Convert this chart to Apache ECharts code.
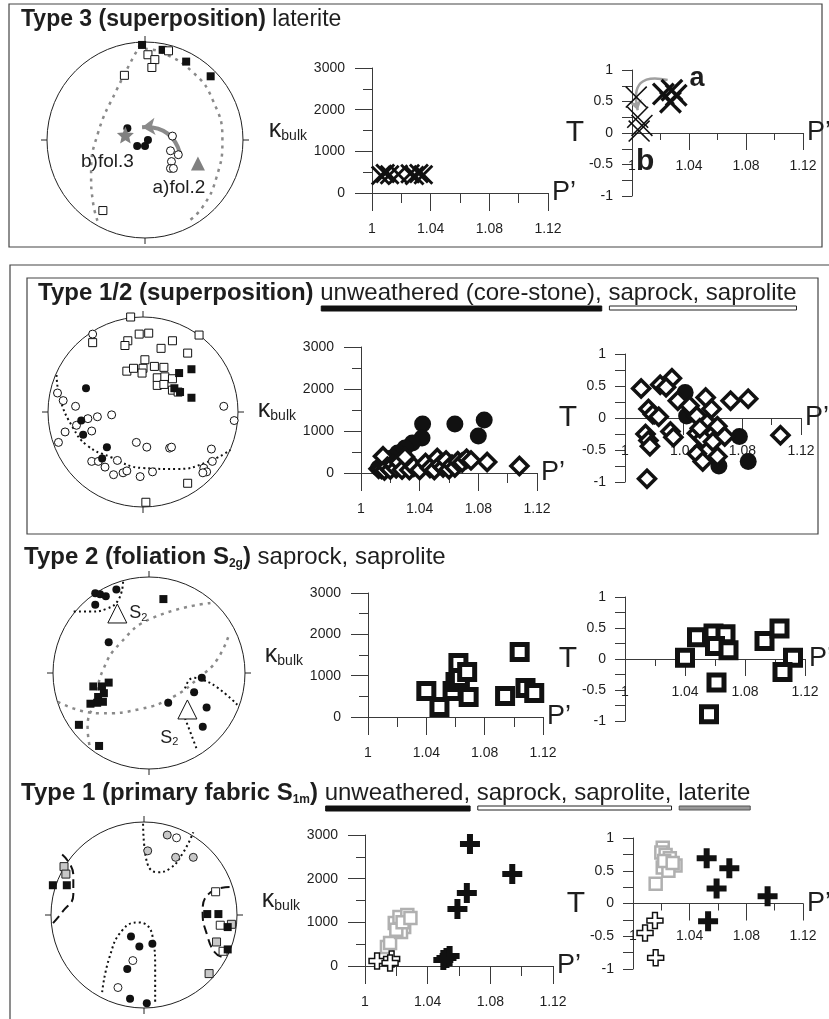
<!DOCTYPE html>
<html>
<head>
<meta charset="utf-8">
<script src="https://cdn.jsdelivr.net/npm/echarts@6/dist/echarts.min.js"></script>
<style>
  html, body { margin: 0; padding: 0; background: #fff; }
  #chart { width: 829px; height: 1019px; }
</style>
</head>
<body>
<div id="chart"></div>
<script>
// ---------- data ----------
// row 1 : Type 3 (superposition) laterite
// stereonet points, unit-circle coordinates [x, y]
var r1SqFilled = [[-0.03,0.97],[0.18,0.92],[0.42,0.80],[0.67,0.65]];
var r1SqOpen = [[0.03,0.87],[0.10,0.82],[0.07,0.74],[0.24,0.91],[-0.21,0.66],[-0.43,-0.72]];
var r1CiFilled = [[-0.18,0.12],[-0.08,-0.06],[0.0,-0.06],[0.03,0.0]];
var r1CiOpen = [[0.28,0.04],[0.26,-0.11],[0.34,-0.15],[0.27,-0.22],[0.26,-0.29],[0.29,-0.29]];
var r1Star = [[-0.2,0.05]];
var r1Tri = [[0.54,-0.24]];
var r1DashA = [[-0.05,0.97],[-0.29,0.51],[-0.48,0.07],[-0.55,-0.34],[-0.53,-0.64],[-0.48,-0.84]];
var r1DashB = [[0.0,0.93],[0.18,0.89],[0.49,0.69],[0.69,0.41],[0.79,0.0],[0.73,-0.38],[0.59,-0.68],[0.43,-0.84]];
var r1StereoArrow = [[0.36,-0.14],[-0.03,0.13]];
// P' / kbulk
var r1KCross = [[1.006,420],[1.009,470],[1.012,440],[1.018,450],[1.026,460],[1.029,420],[1.032,470],[1.035,440]];
// P' / T
var r1TCrossA = [[1.022,0.62],[1.028,0.68],[1.027,0.49],[1.031,0.60]];
var r1TCrossB = [[1.003,0.57],[1.004,0.25],[1.007,0.12],[1.005,0.03]];
var r1TArrow = [[1.025,0.84],[1.004,0.36]];

// row 2 : Type 1/2 (superposition)
var r2SqOpen = [[-0.13,1.0],[0.59,0.81],[-0.53,0.73],[-0.04,0.82],[0.06,0.83],[-0.16,0.75],[-0.19,0.70],
  [0.31,0.75],[0.19,0.67],[0.47,0.62],[0.02,0.55],[0.12,0.48],[0.22,0.47],[-0.17,0.43],[-0.10,0.46],
  [0.0,0.46],[-0.01,0.41],[0.15,0.36],[0.23,0.37],[0.31,0.35],[0.15,0.28],[0.22,0.29],[0.31,0.23],
  [0.37,0.21],[0.47,-0.75],[0.03,-0.95]];
var r2SqFilled = [[0.38,0.41],[0.51,0.45],[0.33,0.25],[0.39,0.21],[0.51,0.15]];
var r2CiFilled = [[-0.6,0.25],[-0.65,-0.09],[-0.63,-0.24],[-0.38,-0.37],[-0.43,-0.49]];
var r2CiOpen = [[-0.53,0.82],[-0.9,0.2],[-0.84,0.12],[-0.71,0.06],[-0.48,-0.05],[-0.58,-0.07],[-0.33,-0.03],
  [-0.7,-0.14],[-0.82,-0.21],[-0.54,-0.2],[-0.89,-0.32],[-0.07,-0.32],[0.04,-0.37],[0.28,-0.38],[0.3,-0.37],
  [0.85,0.06],[0.96,-0.09],[0.72,-0.39],[0.73,-0.52],[-0.54,-0.52],[-0.47,-0.52],[-0.4,-0.58],[-0.27,-0.51],
  [-0.31,-0.66],[-0.21,-0.64],[-0.17,-0.62],[-0.03,-0.68],[0.1,-0.63],[0.64,-0.59],[0.67,-0.63],[0.63,-0.64]];
var r2Dot = [[-0.91,0.39],[-0.87,0.13],[-0.74,-0.16],[-0.59,-0.35],[-0.35,-0.47],[0.0,-0.59],[0.36,-0.6],[0.67,-0.53],[0.92,-0.4]];
var r2KCircle = [[1.042,1167],[1.064,1167],[1.084,1262],[1.080,881],[1.0416,833],[1.035,714],[1.030,595],
  [1.025,476],[1.021,357],[1.016,200],[1.012,120]];
var r2KDiamond = [[1.012,100],[1.014,95],[1.015,400],[1.016,60],[1.018,150],[1.020,80],[1.022,200],[1.024,110],
  [1.026,250],[1.028,80],[1.030,380],[1.033,71],[1.036,150],[1.040,71],[1.044,238],[1.047,120],[1.050,70],
  [1.052,357],[1.054,200],[1.056,130],[1.058,300],[1.060,90],[1.062,200],[1.064,130],[1.066,280],[1.069,250],
  [1.072,340],[1.075,300],[1.086,262],[1.108,167]];
var r2TDiamond = [[1.011,0.46],[1.024,0.52],[1.032,0.62],[1.028,0.48],[1.016,0.14],[1.019,0.06],[1.023,0.02],
  [1.014,-0.25],[1.016,-0.35],[1.017,-0.44],[1.031,-0.21],[1.033,-0.30],[1.015,-0.95],[1.036,0.27],[1.044,0.19],
  [1.049,0.03],[1.055,0.32],[1.059,0.14],[1.056,-0.08],[1.063,-0.13],[1.049,-0.24],[1.053,-0.32],[1.060,-0.37],
  [1.068,-0.29],[1.049,-0.56],[1.053,-0.68],[1.063,-0.60],[1.072,0.27],[1.084,0.30],[1.106,-0.27],[1.051,-0.16]];
var r2TCircle = [[1.041,0.40],[1.042,0.03],[1.078,-0.29],[1.084,-0.68],[1.064,-0.75]];

// row 3 : Type 2 (foliation S2g)
var r3CiFilled = [[-0.56,0.83],[-0.51,0.82],[-0.45,0.80],[-0.34,0.87],[-0.56,0.71],[-0.42,0.32],
  [0.55,-0.05],[0.47,-0.2],[0.2,-0.31],[0.6,-0.36],[0.56,-0.56]];
var r3SqFilled = [[0.15,0.77],[-0.58,-0.14],[-0.49,-0.14],[-0.42,-0.1],[-0.47,-0.21],[-0.53,-0.25],
  [-0.48,-0.3],[-0.54,-0.31],[-0.61,-0.32],[-0.73,-0.54],[-0.52,-0.76]];
var r3TriN = [[-0.33,0.62]];
var r3TriS = [[0.4,-0.38]];
var r3DashA = [[-0.95,-0.30],[-0.51,-0.42],[-0.09,-0.375],[0.25,-0.25],[0.53,-0.04],[0.71,0.14],[0.84,0.42]];
var r3DashB = [[0.64,0.73],[0.03,0.57],[-0.30,0.31],[-0.48,0.03],[-0.56,-0.28],[-0.64,-0.56],[-0.61,-0.80]];
var r3DotN = [[-0.27,0.95],[-0.32,0.76],[-0.44,0.67],[-0.61,0.64],[-0.79,0.64]];
var r3DotS = [[0.375,-0.16],[0.46,-0.05],[0.56,-0.07],[0.71,-0.15],[0.92,-0.33]];
var r3DotS2 = [[0.375,-0.47],[0.5,-0.8]];
var r3KSquare = [[1.040,629],[1.049,242],[1.058,629],[1.060,847],[1.062,1306],[1.063,943],[1.068,1089],
  [1.069,484],[1.094,508],[1.104,1572],[1.108,702],[1.114,580]];
var r3TSquare = [[1.040,0.02],[1.048,0.35],[1.059,0.41],[1.067,0.40],[1.060,0.21],[1.069,0.14],[1.061,-0.38],
  [1.056,-0.89],[1.093,0.29],[1.103,0.49],[1.112,0.02],[1.105,-0.21]];

// row 4 : Type 1 (primary fabric S1m)
var r4CiGray = [[0.25,0.86],[0.04,0.69],[0.34,0.62],[0.53,0.62]];
var r4CiOpen = [[0.35,0.83],[-0.12,-0.49],[-0.28,-0.78]];
var r4CiFilled = [[-0.14,-0.23],[0.09,-0.31],[-0.05,-0.34],[-0.18,-0.58],[-0.15,-0.9],[0.03,-0.95]];
var r4SqGray = [[-0.86,0.52],[-0.84,0.44],[0.94,-0.1],[0.78,-0.29],[0.7,-0.63]];
var r4SqFilled = [[-0.98,0.32],[-0.83,0.32],[0.68,0.01],[0.8,0.01],[0.9,-0.13],[0.9,-0.37]];
var r4SqOpen = [[0.77,0.25],[0.82,-0.11],[0.85,-0.39]];
var r4DotN = [[-0.01,0.98],[0.02,0.62],[0.14,0.46],[0.28,0.5],[0.42,0.67],[0.53,0.89]];
var r4DotS = [[-0.45,-0.83],[-0.37,-0.45],[-0.23,-0.16],[-0.06,-0.08],[0.09,-0.22],[0.12,-0.59],[0.12,-0.94]];
var r4DashW = [[-0.88,0.65],[-0.76,0.43],[-0.76,0.22],[-0.88,0.03],[-1.0,-0.11]];
var r4DashE = [[0.92,0.3],[0.71,0.24],[0.63,0.03],[0.68,-0.22],[0.76,-0.4],[0.84,-0.45]];
var r4KBlackPlus = [[1.067,2794],[1.094,2107],[1.065,1672],[1.059,1305],[1.052,183],[1.054,229],[1.050,137]];
var r4KOpenPlus = [[1.0077,115],[1.017,160],[1.016,69]];
var r4KGraySq = [[1.014,435],[1.016,527],[1.019,985],[1.022,1122],[1.025,893],[1.023,779],[1.027,1168],
  [1.020,830],[1.024,1000],[1.029,1100]];
var r4TBlackPlus = [[1.052,0.69],[1.068,0.54],[1.059,0.23],[1.095,0.11],[1.053,-0.27]];
var r4TOpenPlus = [[1.0155,-0.26],[1.0085,-0.45],[1.016,-0.83]];
var r4TGraySq = [[1.021,0.85],[1.020,0.78],[1.023,0.74],[1.026,0.69],[1.030,0.58],[1.021,0.55],[1.025,0.50],
  [1.016,0.30],[1.022,0.65],[1.028,0.62]];

// ---------- layout ----------
var FONT = '"Liberation Sans", Arial, Helvetica, sans-serif';
var LINE = '#3a3a3a';
var TXT = '#1e1e1e';
// stereonets: [cx, cy, r]
var STEREO = [[145,140,98],[143,412,95],[149,673,96],[144,915,93]];
// kbulk plots: [left, top, width, height]
var KBOX = [[372,68,176,125],[361,347,176,126],[368,593,175,124],[365,835,188,131]];
// T plots
var TBOX = [[632,70,171,126],[625,354,176,128],[625,597,180,124],[633,838,170,131]];

var CROSS = 'path://M2,0 L10,8 L18,0 L20,2 L12,10 L20,18 L18,20 L10,12 L2,20 L0,18 L8,10 L0,2 Z';
var CROSS_THIN = 'path://M1,0 L10,9 L19,0 L20,1 L11,10 L20,19 L19,20 L10,11 L1,20 L0,19 L9,10 L0,1 Z';
var PLUS = 'path://M7,0 H13 V7 H20 V13 H13 V20 H7 V13 H0 V7 H7 Z';
var STAR = 'path://M10,0 L12.9,6.9 L20,7.6 L14.6,12.4 L16.2,20 L10,16 L3.8,20 L5.4,12.4 L0,7.6 L7.1,6.9 Z';

var grids = [], xAxes = [], yAxes = [], polars = [], angleAxes = [], radiusAxes = [], series = [];

function addStereo(c) {
  var g = grids.length;
  grids.push({left: c[0] - c[2], top: c[1] - c[2], width: 2 * c[2], height: 2 * c[2], outerBoundsMode: 'none'});
  xAxes.push({gridIndex: g, type: 'value', min: -1, max: 1, show: false});
  yAxes.push({gridIndex: g, type: 'value', min: -1, max: 1, show: false});
  var p = polars.length;
  polars.push({center: [c[0], c[1]], radius: c[2]});
  angleAxes.push({
    polarIndex: p, type: 'value', min: 0, max: 360, interval: 90, startAngle: 90, clockwise: true,
    axisLine: {lineStyle: {color: '#222', width: 1}},
    axisTick: {show: true, length: 6, lineStyle: {color: '#222', width: 1}},
    axisLabel: {show: false}, splitLine: {show: false}, splitArea: {show: false}
  });
  radiusAxes.push({polarIndex: p, type: 'value', min: 0, max: 1, show: false});
  return g;
}

// P' axis; offset lifts it onto T = 0 in the T plots
function pAxis(g, margin, major, minor, offset) {
  return {
    gridIndex: g, type: 'value', min: 1, max: 1.12, interval: 0.04, offset: offset,
    axisLine: {onZero: false, lineStyle: {color: LINE, width: 1}},
    axisTick: {length: major, lineStyle: {color: LINE}},
    minorTick: {show: true, splitNumber: 2, length: minor, lineStyle: {color: LINE}},
    splitLine: {show: false}, minorSplitLine: {show: false},
    axisLabel: {margin: margin, color: TXT, fontSize: 14, fontFamily: FONT, hideOverlap: false,
      formatter: function (v) { return String(+v.toFixed(2)); }},
    name: 'P\u2019', nameLocation: 'end', nameGap: 4,
    nameTextStyle: {fontSize: 27, color: TXT, fontFamily: FONT, verticalAlign: 'middle', padding: [12, 0, 0, 0]}
  };
}

function addK(b) {
  var g = grids.length;
  grids.push({left: b[0], top: b[1], width: b[2], height: b[3], outerBoundsMode: 'none'});
  xAxes.push(pAxis(g, 29, 18, 10, 0));
  yAxes.push({
    gridIndex: g, type: 'value', min: 0, max: 3000, interval: 1000,
    axisLine: {show: true, lineStyle: {color: LINE, width: 1}},
    axisTick: {show: true, length: 17, lineStyle: {color: LINE}},
    minorTick: {show: true, splitNumber: 2, length: 9, lineStyle: {color: LINE}},
    splitLine: {show: false}, minorSplitLine: {show: false},
    axisLabel: {margin: 27, color: TXT, fontSize: 14, fontFamily: FONT, formatter: function (v) { return String(v); }},
    name: '{k|\u03ba}{s|bulk}', nameLocation: 'middle', nameRotate: 0, nameGap: 65,
    nameTextStyle: {color: TXT, fontFamily: FONT, rich: {
      k: {fontSize: 25, fontFamily: FONT, color: TXT},
      s: {fontSize: 14, fontFamily: FONT, color: TXT, verticalAlign: 'bottom', padding: [12, 0, 0, 0]}
    }}
  });
  return g;
}

function addT(b) {
  var g = grids.length;
  grids.push({left: b[0], top: b[1], width: b[2], height: b[3], outerBoundsMode: 'none'});
  xAxes.push(pAxis(g, 26, 17, 7, -b[3] / 2));
  yAxes.push({
    gridIndex: g, type: 'value', min: -1, max: 1, interval: 0.5,
    axisLine: {show: true, onZero: false, lineStyle: {color: LINE, width: 1}},
    axisTick: {show: true, length: 10, lineStyle: {color: LINE}},
    minorTick: {show: true, splitNumber: 2, length: 10, lineStyle: {color: LINE}},
    splitLine: {show: false}, minorSplitLine: {show: false},
    axisLabel: {margin: 19, color: TXT, fontSize: 14, fontFamily: FONT, formatter: function (v) { return String(v); }},
    name: 'T', nameLocation: 'middle', nameRotate: 0, nameGap: 40,
    nameTextStyle: {fontSize: 30, color: TXT, fontFamily: FONT}
  });
  return g;
}

function pts(g, data, sym, size, fill, stroke, bw, extra) {
  series.push(Object.assign({
    type: 'scatter', xAxisIndex: g, yAxisIndex: g, data: data, symbol: sym, symbolSize: size,
    clip: false, silent: true, z: 4,
    itemStyle: {color: fill, borderColor: stroke, borderWidth: bw, opacity: 1}
  }, extra || {}));
}
function curve(g, data, dash, color, width) {
  series.push({type: 'line', xAxisIndex: g, yAxisIndex: g, data: data, smooth: 0.5, showSymbol: false,
    symbol: 'none', silent: true, z: 2, lineStyle: {type: dash, color: color, width: width}});
}
function arrow(g, coords, curv, color, width, size) {
  series.push({type: 'lines', coordinateSystem: 'cartesian2d', xAxisIndex: g, yAxisIndex: g,
    data: [{coords: coords}], symbol: ['none', 'arrow'], symbolSize: size, silent: true, z: 3,
    lineStyle: {color: color, width: width, curveness: curv, opacity: 1}});
}
function labelled(data, idx, label) {
  return data.map(function (p, i) { return i === idx ? {value: p, label: label} : p; });
}

var GRAYDASH = [3, 5], DOTTED = [2, 3], LONGDASH = [9, 5];

// ---- row 1
var s1 = addStereo(STEREO[0]);
curve(s1, r1DashA, GRAYDASH, '#8a8a8a', 2.5);
curve(s1, r1DashB, GRAYDASH, '#8a8a8a', 2.5);
arrow(s1, r1StereoArrow, -0.4, '#8a8a8a', 4, 13);
pts(s1, r1SqFilled, 'rect', 8, '#111', '#111', 0);
pts(s1, r1SqOpen, 'rect', 8, '#fff', '#111', 1);
pts(s1, r1CiFilled, 'circle', 8, '#111', '#111', 0);
pts(s1, r1CiOpen, 'circle', 8, '#fff', '#111', 1);
pts(s1, r1Star, STAR, 17, '#808080', '#808080', 0, {label: {show: true, position: 'bottom', offset: [-18, 4],
  formatter: 'b)fol.3', fontSize: 19, fontFamily: FONT, color: TXT}});
pts(s1, r1Tri, 'triangle', 14, '#808080', '#808080', 0, {label: {show: true, position: 'bottom', offset: [-19, 3],
  formatter: 'a)fol.2', fontSize: 19, fontFamily: FONT, color: TXT}});
var k1 = addK(KBOX[0]);
pts(k1, r1KCross, CROSS, 20, '#111', '#111', 0);
var t1 = addT(TBOX[0]);
arrow(t1, r1TArrow, -0.8, '#a0a0a0', 2.5, 10);
pts(t1, labelled(r1TCrossB, 3, {show: true, position: 'bottom', offset: [6, 0], formatter: 'b',
  fontSize: 30, fontWeight: 'bold', fontFamily: FONT, color: TXT}), CROSS_THIN, 22, '#111', '#111', 0);
pts(t1, labelled(r1TCrossA, 1, {show: true, position: 'right', distance: 6, offset: [0, -12], formatter: 'a',
  fontSize: 27, fontWeight: 'bold', fontFamily: FONT, color: TXT}), CROSS, 23, '#111', '#111', 0);

// ---- row 2
var s2 = addStereo(STEREO[1]);
curve(s2, r2Dot, DOTTED, '#111', 2);
pts(s2, r2SqOpen, 'rect', 8, '#fff', '#111', 1);
pts(s2, r2SqFilled, 'rect', 8, '#111', '#111', 0);
pts(s2, r2CiOpen, 'circle', 8, '#fff', '#111', 1);
pts(s2, r2CiFilled, 'circle', 8, '#111', '#111', 0);
var k2 = addK(KBOX[1]);
pts(k2, r2KCircle, 'circle', 17, '#111', '#111', 0);
pts(k2, r2KDiamond, 'diamond', 17, '#fff', '#111', 3.5);
var t2 = addT(TBOX[1]);
pts(t2, r2TCircle, 'circle', 17, '#111', '#111', 0);
pts(t2, r2TDiamond, 'diamond', 17, '#fff', '#111', 3.5);

// ---- row 3
var s3 = addStereo(STEREO[2]);
curve(s3, r3DashA, GRAYDASH, '#8a8a8a', 2.5);
curve(s3, r3DashB, GRAYDASH, '#8a8a8a', 2.5);
curve(s3, r3DotN, DOTTED, '#111', 2);
curve(s3, r3DotS, DOTTED, '#111', 2);
curve(s3, r3DotS2, DOTTED, '#111', 2);
pts(s3, r3CiFilled, 'circle', 8, '#111', '#111', 0);
pts(s3, r3SqFilled, 'rect', 8, '#111', '#111', 0);
var S2LABEL = {formatter: 'S{s|2}', fontSize: 18, fontFamily: FONT, color: TXT,
  rich: {s: {fontSize: 11, fontFamily: FONT, color: TXT, verticalAlign: 'bottom', padding: [8, 0, 0, 0]}}};
pts(s3, r3TriN, 'triangle', 19, '#fff', '#111', 1,
  {label: Object.assign({show: true, position: 'right', distance: 2}, S2LABEL)});
pts(s3, r3TriS, 'triangle', 19, '#fff', '#111', 1,
  {label: Object.assign({show: true, position: 'bottom', offset: [-18, 4]}, S2LABEL)});
var k3 = addK(KBOX[2]);
pts(k3, r3KSquare, 'rect', 15, '#fff', '#111', 5);
var t3 = addT(TBOX[2]);
pts(t3, r3TSquare, 'rect', 15, '#fff', '#111', 5);

// ---- row 4
var s4 = addStereo(STEREO[3]);
curve(s4, r4DotN, DOTTED, '#111', 2);
curve(s4, r4DotS, DOTTED, '#111', 2);
curve(s4, r4DashW, LONGDASH, '#111', 2);
curve(s4, r4DashE, LONGDASH, '#111', 2);
pts(s4, r4CiGray, 'circle', 8, '#c8c8c8', '#222', 1);
pts(s4, r4CiOpen, 'circle', 8, '#fff', '#222', 1);
pts(s4, r4CiFilled, 'circle', 8, '#111', '#111', 0);
pts(s4, r4SqGray, 'rect', 8, '#c8c8c8', '#222', 1);
pts(s4, r4SqOpen, 'rect', 8, '#fff', '#222', 1);
pts(s4, r4SqFilled, 'rect', 8, '#111', '#111', 0);
var k4 = addK(KBOX[3]);
pts(k4, r4KGraySq, 'rect', 12, '#fff', '#b0b0b0', 2.5);
pts(k4, r4KOpenPlus, PLUS, 16, '#fff', '#111', 1.5);
pts(k4, r4KBlackPlus, PLUS, 20, '#111', '#111', 0);
var t4 = addT(TBOX[3]);
pts(t4, r4TGraySq, 'rect', 12, '#fff', '#b0b0b0', 2.5);
pts(t4, r4TOpenPlus, PLUS, 16, '#fff', '#111', 1.5);
pts(t4, r4TBlackPlus, PLUS, 20, '#111', '#111', 0);

// ---------- frames and titles ----------
var measure = document.createElement('canvas').getContext('2d');
function titleRow(x, y, size, segs) {
  var out = [], cx = x;
  segs.forEach(function (s) {
    var fs = s.sub ? Math.round(size * 0.52) : size, weight = s.bold ? 'bold' : 'normal';
    measure.font = weight + ' ' + fs + 'px ' + FONT;
    var w = measure.measureText(s.text).width;
    out.push({type: 'text', x: cx, y: s.sub ? y + 7 : y, z: 10, silent: true,
      style: {text: s.text, fontSize: fs, fontWeight: weight, fontFamily: FONT, fill: TXT, verticalAlign: 'middle'}});
    if (s.bar) {
      var st = s.bar === 'black' ? {fill: '#111', stroke: '#111', lineWidth: 1}
        : s.bar === 'gray' ? {fill: '#999', stroke: '#555', lineWidth: 1}
        : {fill: '#fff', stroke: '#222', lineWidth: 1};
      out.push({type: 'rect', z: 10, silent: true, shape: {x: cx + 1, y: y + 13, width: w - 1, height: s.bar === 'black' ? 5 : 4}, style: st});
    }
    cx += w;
  });
  return out;
}

var frame = {fill: 'none', stroke: '#444', lineWidth: 1.2};
var graphics = [
  {type: 'rect', silent: true, shape: {x: 9, y: 4, width: 813, height: 243}, style: frame},
  {type: 'rect', silent: true, shape: {x: 10, y: 265, width: 840, height: 780}, style: frame},
  {type: 'rect', silent: true, shape: {x: 27, y: 278, width: 791, height: 256}, style: frame}
].concat(
  titleRow(21, 20, 23, [{text: 'Type 3 (superposition)', bold: true}, {text: ' laterite'}]),
  titleRow(38, 293, 24, [{text: 'Type 1/2 (superposition)', bold: true}, {text: ' '},
    {text: 'unweathered (core-stone),', bar: 'black'}, {text: ' '}, {text: 'saprock, saprolite', bar: 'hollow'}]),
  titleRow(24, 557, 24, [{text: 'Type 2 (foliation S', bold: true}, {text: '2g', bold: true, sub: true},
    {text: ')', bold: true}, {text: ' saprock, saprolite'}]),
  titleRow(21, 793, 24, [{text: 'Type 1 (primary fabric S', bold: true}, {text: '1m', bold: true, sub: true},
    {text: ')', bold: true}, {text: ' '}, {text: 'unweathered,', bar: 'black'}, {text: ' '},
    {text: 'saprock, saprolite,', bar: 'hollow'}, {text: ' '}, {text: 'laterite', bar: 'gray'}])
);

var chart = echarts.init(document.getElementById('chart'), null, {renderer: 'canvas'});
chart.setOption({
  animation: false,
  backgroundColor: '#fff',
  textStyle: {fontFamily: FONT},
  grid: grids, xAxis: xAxes, yAxis: yAxes,
  polar: polars, angleAxis: angleAxes, radiusAxis: radiusAxes,
  graphic: graphics,
  series: series
});
window.addEventListener('resize', function () { chart.resize(); });
</script>
</body>
</html>
